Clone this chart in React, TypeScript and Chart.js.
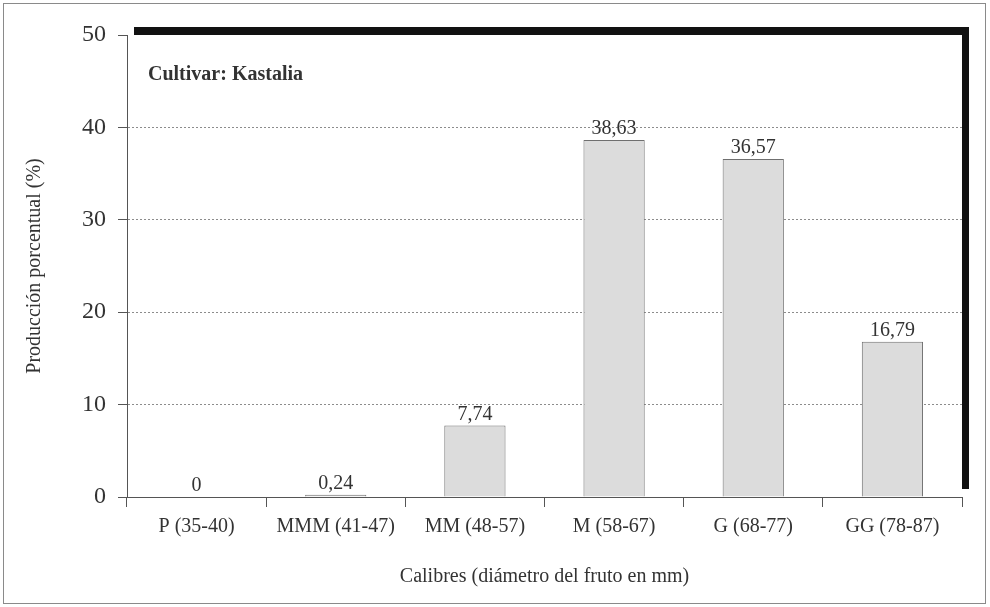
import React, { useEffect, useRef } from "react";
import { Chart, registerables } from "chart.js";

Chart.register(...registerables);

const categories = ["P (35-40)", "MMM (41-47)", "MM (48-57)", "M (58-67)", "G (68-77)", "GG (78-87)"];
const values = [0, 0.24, 7.74, 38.63, 36.57, 16.79];
const valueLabels = ["0", "0,24", "7,74", "38,63", "36,57", "16,79"];
const yMin = 0;
const yMax = 50;
const yStep = 10;
const chartTitle = "Cultivar: Kastalia";
const xTitle = "Calibres (diámetro del fruto en mm)";
const yTitle = "Producción porcentual (%)";

const SERIF = "'Liberation Serif', 'Times New Roman', serif";
const TEXT = "#333333";
const AXIS = "#555555";

const framePlugin = {
  id: "frame",
  beforeDraw(chart: any) {
    const { ctx, chartArea: a, width, height } = chart;
    ctx.save();
    ctx.fillStyle = "#ffffff";
    ctx.fillRect(0, 0, width, height);
    ctx.strokeStyle = "#8a8a8a";
    ctx.lineWidth = 1;
    ctx.strokeRect(3.5, 3.5, 982, 600);
    ctx.fillStyle = "#111111";
    ctx.fillRect(a.left + 7, a.top - 8, a.right - a.left, a.bottom - a.top);
    ctx.fillStyle = "#ffffff";
    ctx.fillRect(a.left, a.top, a.right - a.left, a.bottom - a.top);
    ctx.restore();
  },
  afterDatasetsDraw(chart: any) {
    const { ctx, chartArea: a } = chart;
    ctx.save();
    ctx.fillStyle = TEXT;
    ctx.font = `bold 20px ${SERIF}`;
    ctx.textAlign = "left";
    ctx.textBaseline = "alphabetic";
    ctx.fillText(chartTitle, a.left + 21, a.top + 45);
    const meta = chart.getDatasetMeta(0);
    ctx.font = `20px ${SERIF}`;
    ctx.textAlign = "center";
    ctx.textBaseline = "bottom";
    meta.data.forEach((bar: any, i: number) => {
      ctx.fillText(valueLabels[i], bar.x, bar.y - 1);
    });
    ctx.restore();
  },
};

export default function App() {
  const ref = useRef<HTMLCanvasElement | null>(null);
  useEffect(() => {
    if (!ref.current) return;
    const chart = new Chart(ref.current, {
      type: "bar",
      data: {
        labels: categories,
        datasets: [
          {
            data: values,
            backgroundColor: "#dcdcdc",
            borderColor: "#6f6f6f",
            borderWidth: 1,
            barPercentage: 0.44,
            categoryPercentage: 1,
          },
        ],
      },
      options: {
        animation: false,
        responsive: false,
        layout: { padding: { left: 0, top: 35, right: 28, bottom: 0 } },
        plugins: { legend: { display: false }, tooltip: { enabled: false } },
        scales: {
          x: {
            offset: true,
            grid: {
              offset: true,
              drawOnChartArea: false,
              drawTicks: true,
              tickLength: 10,
              tickColor: AXIS,
              tickWidth: 1,
            },
            border: { display: true, color: AXIS, width: 1 },
            ticks: { color: TEXT, font: { family: SERIF, size: 20 }, padding: 8, maxRotation: 0 },
            title: {
              display: true,
              text: xTitle,
              color: TEXT,
              font: { family: SERIF, size: 20 },
              padding: { top: 0, bottom: 18 },
            },
            afterFit: (s: any) => {
              s.height = 110;
            },
          },
          y: {
            min: yMin,
            max: yMax,
            ticks: { stepSize: yStep, color: TEXT, font: { family: SERIF, size: 24 }, padding: 12 },
            grid: {
              color: (c: any) => (c.tick && c.tick.value === yMax ? "rgba(0,0,0,0)" : "#8c8c8c"),
              lineWidth: 1,
              drawTicks: true,
              tickLength: 9,
              tickColor: AXIS,
              tickWidth: 1,
              tickBorderDash: [],
            },
            border: { display: true, color: AXIS, width: 1, dash: [2, 2] },
            title: {
              display: true,
              text: yTitle,
              color: TEXT,
              font: { family: SERIF, size: 20 },
              padding: { top: 23, bottom: 0 },
            },
            afterFit: (s: any) => {
              s.width = 127;
            },
          },
        },
      },
      plugins: [framePlugin],
    });
    return () => chart.destroy();
  }, []);
  return (
    <div style={{ position: "fixed", left: 0, top: 0, width: 990, height: 607 }}>
      <canvas ref={ref} width={990} height={607} style={{ width: 990, height: 607, display: "block" }} />
    </div>
  );
}
